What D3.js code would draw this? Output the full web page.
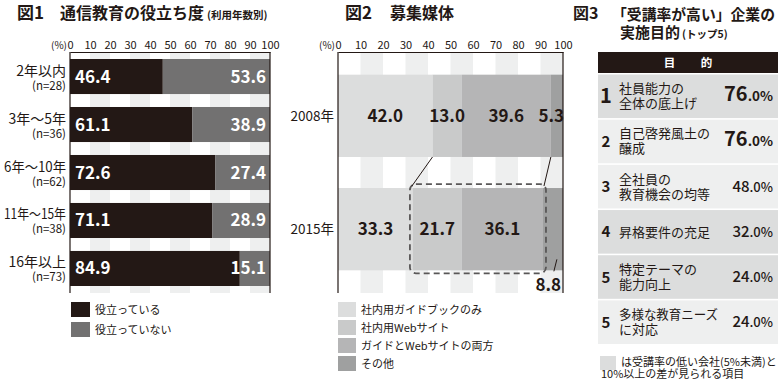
<!DOCTYPE html>
<html><head><meta charset="utf-8">
<script src="https://cdn.jsdelivr.net/npm/d3@7"></script>
<style>
html,body{margin:0;padding:0;background:#fff;}
svg{display:block;font-family:"Noto Sans CJK JP","Noto Sans",sans-serif;}
</style></head>
<body><svg id="c" width="780" height="380"></svg>
<script>
// ---------- DATA ----------
const ticks = [0,10,20,30,40,50,60,70,80,90,100];

const fig1Categories = ["2年以内","3年～5年","6年～10年","11年～15年","16年以上"];
const fig1N = ["(n=28)","(n=36)","(n=62)","(n=38)","(n=73)"];
const fig1Useful = [46.4,61.1,72.6,71.1,84.9];
const fig1NotUseful = [53.6,38.9,27.4,28.9,15.1];
const fig1Legend = ["役立っている","役立っていない"];

const fig2Years = ["2008年","2015年"];
const fig2Series = ["社内用ガイドブックのみ","社内用Webサイト","ガイドとWebサイトの両方","その他"];
const fig2Values2008 = [42.0,13.0,39.6,5.3];
const fig2Values2015 = [33.3,21.7,36.1,8.8];

const fig3Ranks = [1,2,3,4,5,5];
const fig3Items = [["社員能力の","全体の底上げ"],["自己啓発風土の","醸成"],["全社員の","教育機会の均等"],["昇格要件の充足"],["特定テーマの","能力向上"],["多様な教育ニーズ","に対応"]];
const fig3Values = [76.0,76.0,48.0,32.0,24.0,24.0];
const fig3Highlight = [true,false,false,true,true,false];
const fig3Note = ["は受講率の低い会社(5%未満)と","10%以上の差が見られる項目"];

// ---------- STYLE ----------
const INK = "#231815";
const STRIPE = "#eeefef";
const C1 = [INK, "#727171"];
const C2 = ["#dcdddd","#c9caca","#b5b5b6","#9fa0a0"];
const ROW_HI = "#dcdddd", ROW_LO = "#eeefef";

const svg = d3.select("#c");
function fit(sel, maxW) {
  sel.each(function(){ const w = this.getComputedTextLength(); if (w > maxW) { d3.select(this).attr("textLength", maxW).attr("lengthAdjust","spacingAndGlyphs"); } });
  return sel;
}

// ---------- FIG 1 ----------
svg.append("text").attr("x",17).attr("y",19).attr("font-size",17).attr("font-weight",700).attr("fill",INK).text("図1");
svg.append("text").attr("x",60).attr("y",19).attr("font-size",16).attr("font-weight",700).attr("fill",INK)
  .text("通信教育の役立ち度")
  .append("tspan").attr("font-size",10.5).attr("dx",3).text("(利用年数別)");

const pTop = 52, pBottom = 293;
function stripes(g, x) {
  g.selectAll("rect.stripe").data(ticks.filter((d,i)=> i%2===1 && d<100)).join("rect")
    .attr("class","stripe").attr("x", d=>x(d)).attr("width", d=>x(d+10)-x(d))
    .attr("y", pTop).attr("height", pBottom-pTop).attr("fill", STRIPE);
}
function frame(g, x) {
  g.append("g").attr("transform",`translate(0,${pTop})`)
    .call(d3.axisTop(x).tickValues(ticks).tickSize(0).tickSizeOuter(0).tickPadding(3))
    .call(a=>{a.select(".domain").attr("stroke",INK).attr("stroke-width",1.2);
      a.selectAll("text").attr("font-size",11).attr("fill",INK).attr("font-family","Noto Sans CJK JP");});
  g.selectAll("line.side").data([0,100]).join("line").attr("class","side")
    .attr("x1",d=>x(d)).attr("x2",d=>x(d)).attr("y1",pTop).attr("y2",pBottom)
    .attr("stroke",INK).attr("stroke-width",1.2);
  g.append("text").attr("x", x(0)-3).attr("y", pTop-3).attr("text-anchor","end")
    .attr("font-size",10).attr("fill",INK).text("(%)");
}

const g1 = svg.append("g");
const x1 = d3.scaleLinear().domain([0,100]).range([70,270]);
const y1 = d3.scaleBand().domain(fig1Categories).range([pTop,pBottom]).paddingInner(0.27).paddingOuter(0.146);
stripes(g1, x1);
fig1Categories.forEach((c,i)=>{
  const y = y1(c), h = y1.bandwidth();
  g1.append("rect").attr("x",x1(0)).attr("y",y).attr("width",x1(fig1Useful[i])-x1(0)).attr("height",h).attr("fill",C1[0]);
  g1.append("rect").attr("x",x1(fig1Useful[i])).attr("y",y).attr("width",x1(100)-x1(fig1Useful[i])).attr("height",h).attr("fill",C1[1]);
  g1.append("text").attr("x",x1(0)+5).attr("y",y+h/2+6).attr("font-size",17).attr("font-weight",700).attr("fill","#fff").text(fig1Useful[i].toFixed(1));
  g1.append("text").attr("x",x1(100)-4).attr("y",y+h/2+6).attr("text-anchor","end").attr("font-size",17).attr("font-weight",700).attr("fill","#fff").text(fig1NotUseful[i].toFixed(1));
  const t = g1.append("text").attr("text-anchor","end").attr("fill",INK);
  fit(t.append("tspan").attr("x",x1(0)-4).attr("y",y+h/2-1).attr("font-size",14).text(c), 62);
  t.append("tspan").attr("x",x1(0)-4).attr("y",y+h/2+13).attr("font-size",11.5).text(fig1N[i]);
});
frame(g1, x1);
fig1Legend.forEach((t,i)=>{
  g1.append("rect").attr("x",71).attr("y",302+i*20).attr("width",19).attr("height",15).attr("fill",C1[i]);
  g1.append("text").attr("x",95).attr("y",313.5+i*20).attr("font-size",11).attr("fill",INK).text(t);
});

// ---------- FIG 2 ----------
svg.append("text").attr("x",345).attr("y",19).attr("font-size",17).attr("font-weight",700).attr("fill",INK).text("図2");
svg.append("text").attr("x",390).attr("y",19).attr("font-size",16).attr("font-weight",700).attr("fill",INK).text("募集媒体");

const g2 = svg.append("g");
const x2 = d3.scaleLinear().domain([0,100]).range([338,563]);
const y2 = d3.scaleBand().domain(fig2Years).range([pTop,pBottom]).paddingInner(0.274).paddingOuter(0.2);
stripes(g2, x2);
const rows2 = [fig2Values2008, fig2Values2015];
const cum = v => { let s=0; return v.map(d=>{const a=s; s+=d; return [a,s];}); };
fig2Years.forEach((yr,i)=>{
  const y = y2(yr), h = y2.bandwidth();
  const segs = cum(rows2[i]);
  segs.forEach((s,j)=>{
    const x0 = x2(s[0]), xe = j===segs.length-1 ? x2(100) : x2(s[1]);
    g2.append("rect").attr("x",x0).attr("y",y).attr("width",xe-x0).attr("height",h).attr("fill",C2[j]);
  });
  g2.append("text").attr("x",x2(0)-4).attr("y",y+h/2+5).attr("text-anchor","end").attr("font-size",13.5).attr("fill",INK).text(yr);
});
// value labels
cum(fig2Values2008).forEach((s,j)=>{
  const y = y2(fig2Years[0]) + y2.bandwidth()/2 + 6;
  const last = j===3;
  g2.append("text").attr("x", last ? x2(100)+1 : x2((s[0]+s[1])/2)).attr("y",y)
    .attr("text-anchor", last ? "end" : "middle").attr("font-size",17).attr("font-weight",700).attr("fill",INK)
    .text(fig2Values2008[j].toFixed(1));
});
cum(fig2Values2015).forEach((s,j)=>{
  const yb = y2(fig2Years[1]), h = y2.bandwidth();
  if (j<3) {
    g2.append("text").attr("x", x2((s[0]+s[1])/2)).attr("y",yb+h/2+6)
      .attr("text-anchor","middle").attr("font-size",17).attr("font-weight",700).attr("fill",INK)
      .text(fig2Values2015[j].toFixed(1));
  } else {
    const cx = x2((s[0]+s[1])/2);
    g2.append("line").attr("x1",cx+4).attr("y1",yb+h-11).attr("x2",cx+1).attr("y2",yb+h+1).attr("stroke",INK).attr("stroke-width",1);
    g2.append("text").attr("x", x2(100)-2).attr("y",yb+h+21)
      .attr("text-anchor","end").attr("font-size",17).attr("font-weight",700).attr("fill",INK)
      .text(fig2Values2015[j].toFixed(1));
  }
});
// highlight box + connectors
{
  const c08 = cum(fig2Values2008), c15 = cum(fig2Values2015);
  const b08 = y2(fig2Years[0]) + y2.bandwidth();
  const t15 = y2(fig2Years[1]), b15 = t15 + y2.bandwidth();
  const rx0 = x2(c15[1][0]) - 3, rx1 = x2(c15[2][1]) + 3;
  g2.append("rect").attr("x",rx0).attr("y",t15-4).attr("width",rx1-rx0).attr("height",b15-t15+7)
    .attr("rx",6).attr("fill","none").attr("stroke","#595757").attr("stroke-width",1.8).attr("stroke-dasharray","6,4");
  g2.append("line").attr("x1",x2(c08[1][0])).attr("y1",b08).attr("x2",rx0+2).attr("y2",t15-2).attr("stroke",INK).attr("stroke-width",1);
  g2.append("line").attr("x1",x2(c08[2][1])).attr("y1",b08).attr("x2",rx1-2).attr("y2",t15-2).attr("stroke",INK).attr("stroke-width",1);
}
frame(g2, x2);
fig2Series.forEach((t,i)=>{
  g2.append("rect").attr("x",338).attr("y",302+i*18).attr("width",18).attr("height",15).attr("fill",C2[i]);
  g2.append("text").attr("x",361).attr("y",313.5+i*18).attr("font-size",11).attr("fill",INK).text(t);
});

// ---------- FIG 3 ----------
svg.append("text").attr("x",573).attr("y",19).attr("font-size",16).attr("font-weight",700).attr("fill",INK).text("図3");
fit(svg.append("text").attr("x",612).attr("y",19.5).attr("font-size",15).attr("font-weight",700).attr("fill",INK).text("「受講率が高い」企業の"), 163);
svg.append("text").attr("x",620).attr("y",37.5).attr("font-size",15).attr("font-weight",700).attr("fill",INK)
  .text("実施目的").append("tspan").attr("font-size",10.5).attr("dx",2).text("(トップ5)");

const g3 = svg.append("g");
const tx0 = 598, tx1 = 778;
g3.append("rect").attr("x",tx0).attr("y",52).attr("width",tx1-tx0).attr("height",21).attr("fill",INK);
g3.append("text").attr("x",(tx0+tx1)/2).attr("y",67).attr("text-anchor","middle").attr("font-size",11.5).attr("font-weight",700).attr("fill","#fff").attr("xml:space","preserve").text("目　　 的");
const y3 = d3.scaleBand().domain(d3.range(fig3Ranks.length)).range([74.5,344]).paddingInner(0.035).paddingOuter(0);
fig3Ranks.forEach((r,i)=>{
  const y = y3(i), h = y3.bandwidth(), cy = y+h/2;
  g3.append("rect").attr("x",tx0).attr("y",y).attr("width",tx1-tx0).attr("height",h).attr("fill",fig3Highlight[i]?ROW_HI:ROW_LO);
  g3.append("text").attr("x",606).attr("y",cy+(i===0?7:5.5)).attr("text-anchor","middle")
    .attr("font-size", i===0?20:15).attr("font-weight",700).attr("fill",INK).text(r);
  const lines = fig3Items[i];
  const t = g3.append("text").attr("font-size",13).attr("fill",INK);
  lines.forEach((l,k)=>{
    const base = lines.length===1 ? cy+5 : cy-3+k*15;
    fit(t.append("tspan").attr("x",619).attr("y",base).text(l), 99);
  });
  const v = fig3Values[i].toFixed(1).split(".");
  const big = i<2;
  g3.append("text").attr("x",773).attr("y",cy+5).attr("text-anchor","end").attr("fill",INK)
    .attr("font-weight",big?700:500)
    .call(t=>{
      t.append("tspan").attr("font-size",big?20:15).text(v[0]);
      t.append("tspan").attr("font-size",big?13.5:13).text("."+v[1]+"%");
    });
});
g3.append("rect").attr("x",600).attr("y",356).attr("width",16).attr("height",14).attr("fill",ROW_HI);
{
  const t = g3.append("text").attr("font-size",11).attr("fill",INK);
  fit(t.append("tspan").attr("x",621).attr("y",366).text(fig3Note[0]), 156);
  fit(t.append("tspan").attr("x",601).attr("y",377.5).text(fig3Note[1]), 150);
}
</script></body></html>
